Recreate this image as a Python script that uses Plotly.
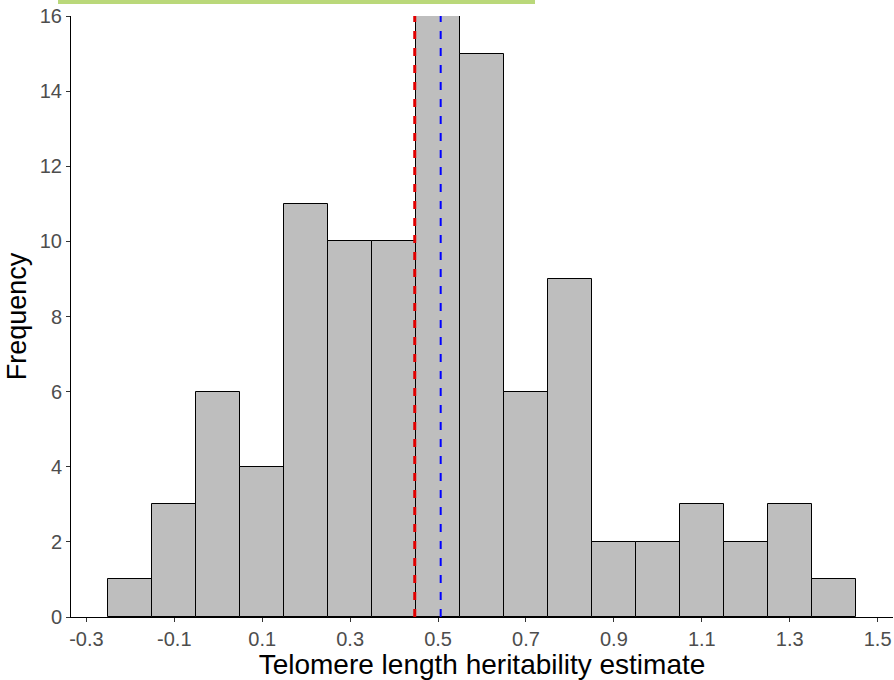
import plotly.graph_objects as go

bin_centers = [-0.2, -0.1, 0.0, 0.1, 0.2, 0.3, 0.4, 0.5, 0.6, 0.7, 0.8, 0.9, 1.0, 1.1, 1.2, 1.3, 1.4]
counts = [1, 3, 6, 4, 11, 10, 10, 16, 15, 6, 9, 2, 2, 3, 2, 3, 1]
bin_width = 0.1
red_line_x = 0.447
blue_line_x = 0.506
x_ticks = [-0.3, -0.1, 0.1, 0.3, 0.5, 0.7, 0.9, 1.1, 1.3, 1.5]
y_ticks = [0, 2, 4, 6, 8, 10, 12, 14, 16]

fig = go.Figure()
fig.add_trace(go.Bar(
    x=bin_centers, y=counts, width=[bin_width] * len(counts),
    marker=dict(color="#bebebe", line=dict(color="black", width=1)),
    showlegend=False, hoverinfo="x+y",
))

fig.add_shape(type="line", x0=red_line_x, x1=red_line_x, y0=0, y1=16, xref="x", yref="y",
              line=dict(color="#e00000", width=3, dash="8px,9px"), layer="above")
fig.add_shape(type="line", x0=blue_line_x, x1=blue_line_x, y0=0, y1=16, xref="x", yref="y",
              line=dict(color="#0000ff", width=2, dash="8px,9px"), layer="above")
# decorative green band at top
fig.add_shape(type="rect", xref="paper", yref="paper",
              x0=-0.0158, x1=0.5645, y0=1 + 12 / 601, y1=1 + 18 / 601,
              fillcolor="#bad87a", line=dict(width=0), layer="above")

fig.update_layout(
    width=894, height=680,
    margin=dict(l=71, r=1, t=16, b=63),
    plot_bgcolor="white", paper_bgcolor="white",
    bargap=0,
    font=dict(family="Liberation Sans, Arial, sans-serif"),
    xaxis=dict(
        range=[-0.335, 1.535], tickvals=x_ticks, ticktext=[f"{v:.1f}" for v in x_ticks],
        showgrid=False, zeroline=False, showline=True, linecolor="black", linewidth=1,
        ticks="outside", ticklen=4, tickcolor="#333333",
        tickfont=dict(size=20, color="#4d4d4d"),
        title=dict(text="Telomere length heritability estimate", font=dict(size=28, color="black"), standoff=1),
    ),
    yaxis=dict(
        range=[0, 16], tickvals=y_ticks,
        showgrid=False, zeroline=False, showline=True, linecolor="black", linewidth=1,
        ticks="outside", ticklen=4, tickcolor="#333333",
        tickfont=dict(size=20, color="#4d4d4d"),
        title=dict(text="Frequency", font=dict(size=27, color="black"), standoff=5),
    ),
)

fig.write_html("out.html", post_script="document.body.style.margin='0';",
               config={"displayModeBar": False})
